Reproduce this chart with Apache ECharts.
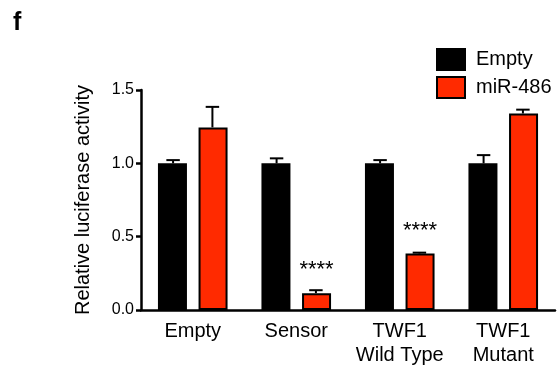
<!DOCTYPE html>
<html lang="en">
<head>
    <meta charset="UTF-8">
    <title>Relative luciferase activity</title>
    <script src="https://cdn.jsdelivr.net/npm/echarts@6/dist/echarts.min.js"></script>
    <style>
        body { margin: 0; background: #fff; }
        #box { width: 560px; height: 371px; }
    </style>
</head>
<body>
<div id="box"></div>
<script>
    var categories = ['Empty', 'Sensor', 'TWF1\nWild Type', 'TWF1\nMutant'];
    var emptyVals = [1.0, 1.0, 1.0, 1.0];
    var emptyErr = [0.022, 0.034, 0.022, 0.056];
    var mirVals = [1.245, 0.115, 0.385, 1.34];
    var mirErr = [0.14, 0.02, 0.006, 0.026];
    var stars = ['', '****', '****', ''];
    var yTicks = [0, 0.5, 1.0, 1.5];

    var RED = '#ff2a00';
    var FONT = 'Liberation Sans, Arial, sans-serif';

    // upper error bar only, shifted to sit on its bar
    function errSeries(name, vals, errs, side) {
        return {
            name: name + ' err',
            type: 'custom',
            z: 1,
            data: vals.map(function (v, i) { return [i, v, v + errs[i]]; }),
            renderItem: function (params, api) {
                var band = api.size([1, 0])[0];
                var dx = side * band * 0.19;
                var lo = api.coord([api.value(0), api.value(1)]);
                var hi = api.coord([api.value(0), api.value(2)]);
                var x = lo[0] + dx;
                var cap = band * 0.065;
                return {
                    type: 'group',
                    children: [
                        { type: 'line', shape: { x1: x, y1: lo[1], x2: x, y2: hi[1] },
                          style: { stroke: '#000', lineWidth: 2 } },
                        { type: 'line', shape: { x1: x - cap, y1: hi[1], x2: x + cap, y2: hi[1] },
                          style: { stroke: '#000', lineWidth: 2 } }
                    ]
                };
            }
        };
    }

    var box = echarts.init(document.getElementById('box'));
    box.setOption({
        animation: false,
        textStyle: { fontFamily: FONT },
        title: {
            text: 'f',
            left: 8, top: 6,
            textStyle: { fontSize: 25, fontWeight: 'bold', color: '#000', fontFamily: FONT }
        },
        legend: {
            orient: 'vertical',
            left: 431, top: 43,
            itemWidth: 28, itemHeight: 21, itemGap: 5,
            icon: 'rect',
            data: ['Empty', 'miR-486'],
            textStyle: { fontSize: 20, color: '#000', fontFamily: FONT, padding: [0, 0, 0, 6] }
        },
        grid: { left: 141, right: 5, top: 90, bottom: 61 },
        xAxis: {
            type: 'category',
            data: categories,
            axisLine: { lineStyle: { color: '#000', width: 2.5 } },
            axisTick: { alignWithLabel: true, length: 6, lineStyle: { width: 2.5 } },
            axisLabel: { interval: 0, color: '#000', fontSize: 20, lineHeight: 24, margin: 9, fontFamily: FONT }
        },
        yAxis: {
            type: 'value',
            min: 0, max: 1.5, interval: 0.5,
            name: 'Relative luciferase activity',
            nameLocation: 'middle',
            nameGap: 48,
            nameTextStyle: { color: '#000', fontSize: 20, fontFamily: FONT },
            axisLine: { show: true, lineStyle: { color: '#000', width: 2.5 } },
            axisTick: { show: true, length: 5, lineStyle: { width: 2.5 } },
            axisLabel: {
                color: '#000', fontSize: 16, margin: 7, fontFamily: FONT,
                formatter: function (v) { return yTicks.indexOf(v) >= 0 ? v.toFixed(1) : ''; }
            },
            splitLine: { show: false }
        },
        series: [
            {
                name: 'Empty',
                type: 'bar',
                barWidth: 29,
                barGap: '40%',
                z: 2,
                itemStyle: { color: '#000', borderColor: '#000', borderWidth: 2 },
                data: emptyVals
            },
            {
                name: 'miR-486',
                type: 'bar',
                barWidth: 29,
                z: 2,
                itemStyle: { color: RED, borderColor: '#000', borderWidth: 2 },
                label: {
                    show: true,
                    position: 'top',
                    distance: 12,
                    fontSize: 22,
                    color: '#000',
                    fontFamily: FONT,
                    formatter: function (p) { return stars[p.dataIndex]; }
                },
                data: mirVals
            },
            errSeries('Empty', emptyVals, emptyErr, -1),
            errSeries('miR-486', mirVals, mirErr, 1)
        ]
    });
</script>
</body>
</html>
